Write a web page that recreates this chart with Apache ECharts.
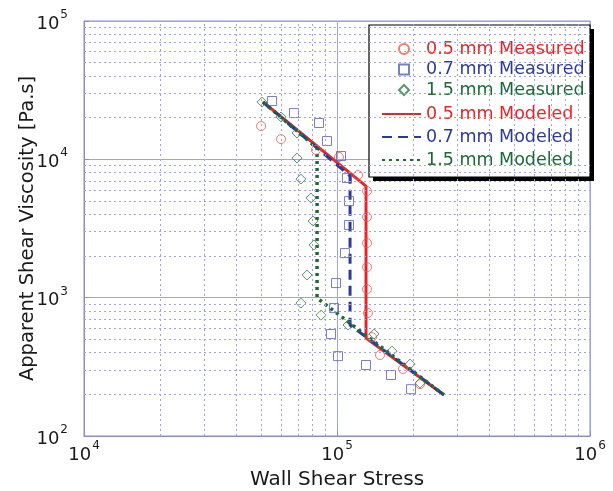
<!DOCTYPE html>
<html>
<head>
<meta charset="utf-8">
<script src="https://cdn.jsdelivr.net/npm/echarts@6/dist/echarts.min.js"></script>
<style>html,body{margin:0;padding:0;background:#fff;}#c{width:613px;height:491px;}</style>
</head>
<body>
<div id="c"></div>
<script>
// ---- data ----
const xTickExponents = [4, 5, 6];
const yTickExponents = [2, 3, 4, 5];
const minorX = [2e4,3e4,4e4,5e4,6e4,7e4,8e4,9e4,2e5,3e5,4e5,5e5,6e5,7e5,8e5,9e5];
const minorY = [200,300,400,500,600,700,800,900,2000,3000,4000,5000,6000,7000,8000,9000,20000,30000,40000,50000,60000,70000,80000,90000];

const x05Measured = [50100, 60100, 82600, 101800, 121100, 131400, 131400, 131400, 131400, 131400, 132600, 137500, 147900, 182400, 212900];
const y05Measured = [17400, 14000, 11700, 10400, 7700, 5900, 3830, 2480, 1660, 1150, 774, 519, 385, 305, 237];

const x07Measured = [55400, 67600, 84900, 91300, 103700, 109500, 111500, 111500, 107500, 99100, 97300, 94700, 100900, 130200, 163500, 196200];
const y07Measured = [26400, 21600, 18300, 13560, 10560, 7320, 4990, 3350, 2100, 1275, 841, 546, 378, 326, 276, 218];

const x15Measured = [50500, 60100, 69500, 69500, 72000, 78900, 80400, 81100, 76100, 72000, 86500, 110500, 140100, 165000, 194400, 212900];
const y15Measured = [25960, 20230, 15500, 10220, 7200, 5250, 3580, 2400, 1457, 914, 748, 634, 546, 411, 331, 241];

const x05Modeled = [51000, 130200, 130200, 264800];
const y05Modeled = [25960, 6410, 510, 198];
const x07Modeled = [51000, 112600, 112600, 264800];
const y07Modeled = [25960, 7570, 634, 198];
const x15Modeled = [51000, 83400, 83400, 264800];
const y15Modeled = [25960, 12070, 993, 198];

const seriesNames = ['0.5 mm Measured','0.7 mm Measured','1.5 mm Measured','0.5 mm Modeled','0.7 mm Modeled','1.5 mm Modeled'];
// ---------------------------------------

const zip = (xs, ys) => xs.map((x, i) => [x, ys[i]]);
const RED = '#e3262b', BLUE = '#2e3b96', GREEN = '#1b6b37';
const GRID = '#a3a3db';
const FONT = 'DejaVu Sans';

const chart = echarts.init(document.getElementById('c'), null, {renderer: 'canvas'});

const expLabel = v => '{b|10}{s|' + Math.round(Math.log10(v)) + '}';
const rich = {
  b: {fontSize: 18, fontFamily: FONT, color: '#1a1a1a', lineHeight: 24, verticalAlign: 'bottom'},
  s: {fontSize: 12, fontFamily: FONT, color: '#1a1a1a', lineHeight: 24, verticalAlign: 'top', padding: [0,0,0,1]}
};

const minorLines = minorX.map(v => ({xAxis: v})).concat(minorY.map(v => ({yAxis: v})));
const noSymbol = {color: 'rgba(0,0,0,0)', borderWidth: 0, borderColor: 'rgba(0,0,0,0)'};

chart.setOption({
  animation: false,
  backgroundColor: '#fff',
  grid: {left: 84, right: 23, top: 21, bottom: 55, containLabel: false, outerBoundsMode: 'none',
         show: true, borderColor: '#8c8cca', borderWidth: 1, backgroundColor: '#fff'},
  xAxis: {
    type: 'log', logBase: 10,
    min: Math.pow(10, xTickExponents[0]), max: Math.pow(10, xTickExponents[xTickExponents.length-1]),
    name: 'Wall Shear Stress', nameLocation: 'middle', nameGap: 34, nameMoveOverlap: false,
    nameTextStyle: {fontSize: 20, fontFamily: FONT, color: '#1a1a1a'},
    axisLine: {show: true, lineStyle: {color: '#8c8cca'}},
    axisTick: {show: true, inside: true, length: 5, lineStyle: {color: '#8c8cca'}},
    splitLine: {show: true, lineStyle: {color: GRID, width: 1}},
    axisLabel: {formatter: expLabel, rich: rich, margin: 4}
  },
  yAxis: {
    type: 'log', logBase: 10,
    min: Math.pow(10, yTickExponents[0]), max: Math.pow(10, yTickExponents[yTickExponents.length-1]),
    name: 'Apparent Shear Viscosity [Pa.s]', nameLocation: 'middle', nameGap: 46, nameMoveOverlap: false,
    nameTextStyle: {fontSize: 19.5, fontFamily: FONT, color: '#1a1a1a'},
    axisLine: {show: true, lineStyle: {color: '#8c8cca'}},
    axisTick: {show: true, inside: true, length: 5, lineStyle: {color: '#8c8cca'}},
    splitLine: {show: true, lineStyle: {color: GRID, width: 1}},
    axisLabel: {formatter: expLabel, rich: rich, margin: 16}
  },
  legend: [
    {
      orient: 'vertical', left: 393, top: 33, itemWidth: 10, itemHeight: 10, itemGap: -1.5,
      textStyle: {fontSize: 17.5, fontFamily: FONT, lineHeight: 22, padding: [0, 0, 0, 12]},
      data: [
        {name: seriesNames[0], icon: 'circle', textStyle: {color: RED}},
        {name: seriesNames[1], icon: 'rect', textStyle: {color: BLUE}},
        {name: seriesNames[2], icon: 'diamond', textStyle: {color: GREEN}}
      ]
    },
    {
      orient: 'vertical', left: 376, top: 98, itemWidth: 39, itemHeight: 12, itemGap: 1,
      textStyle: {fontSize: 17.5, fontFamily: FONT, lineHeight: 22},
      data: [
        {name: seriesNames[3], itemStyle: noSymbol, textStyle: {color: RED}},
        {name: seriesNames[4], itemStyle: noSymbol, textStyle: {color: BLUE}},
        {name: seriesNames[5], itemStyle: noSymbol, textStyle: {color: GREEN}}
      ]
    }
  ],
  graphic: [
    {type: 'rect', z: 3, silent: true, shape: {x: 373, y: 29, width: 221, height: 152}, style: {fill: '#000'}},
    {type: 'rect', z: 3, silent: true, shape: {x: 369, y: 25, width: 221, height: 152}, style: {fill: '#fff', stroke: '#000', lineWidth: 1.2}}
  ],
  series: [
    {
      name: 'minor-grid', type: 'line', data: [], silent: true, z: 1, legendHoverLink: false,
      markLine: {silent: true, symbol: ['none','none'], label: {show: false}, animation: false,
        lineStyle: {color: GRID, width: 1, type: [2, 3]}, emphasis: {disabled: true},
        data: minorLines}
    },
    {name: seriesNames[0], type: 'scatter', data: zip(x05Measured, y05Measured), symbol: 'circle', symbolSize: 9, z: 2,
     itemStyle: {color: 'rgba(0,0,0,0)', borderColor: '#ee5a4c', borderWidth: 1}},
    {name: seriesNames[1], type: 'scatter', data: zip(x07Measured, y07Measured), symbol: 'rect', symbolSize: 9, z: 2,
     itemStyle: {color: 'rgba(0,0,0,0)', borderColor: '#5560b0', borderWidth: 1}},
    {name: seriesNames[2], type: 'scatter', data: zip(x15Measured, y15Measured), symbol: 'diamond', symbolSize: 10, z: 2,
     itemStyle: {color: 'rgba(0,0,0,0)', borderColor: '#2f7a48', borderWidth: 1}},
    {name: seriesNames[3], type: 'line', data: zip(x05Modeled, y05Modeled), symbol: 'none', showSymbol: false, z: 2,
     itemStyle: {color: RED}, lineStyle: {color: RED, width: 3, type: 'solid'}},
    {name: seriesNames[4], type: 'line', data: zip(x07Modeled, y07Modeled), symbol: 'none', showSymbol: false, z: 2,
     itemStyle: {color: BLUE}, lineStyle: {color: BLUE, width: 3, type: [10, 6]}},
    {name: seriesNames[5], type: 'line', data: zip(x15Modeled, y15Modeled), symbol: 'none', showSymbol: false, z: 2,
     itemStyle: {color: GREEN}, lineStyle: {color: GREEN, width: 3.5, type: [3, 4]}}
  ]
});
</script>
</body>
</html>
